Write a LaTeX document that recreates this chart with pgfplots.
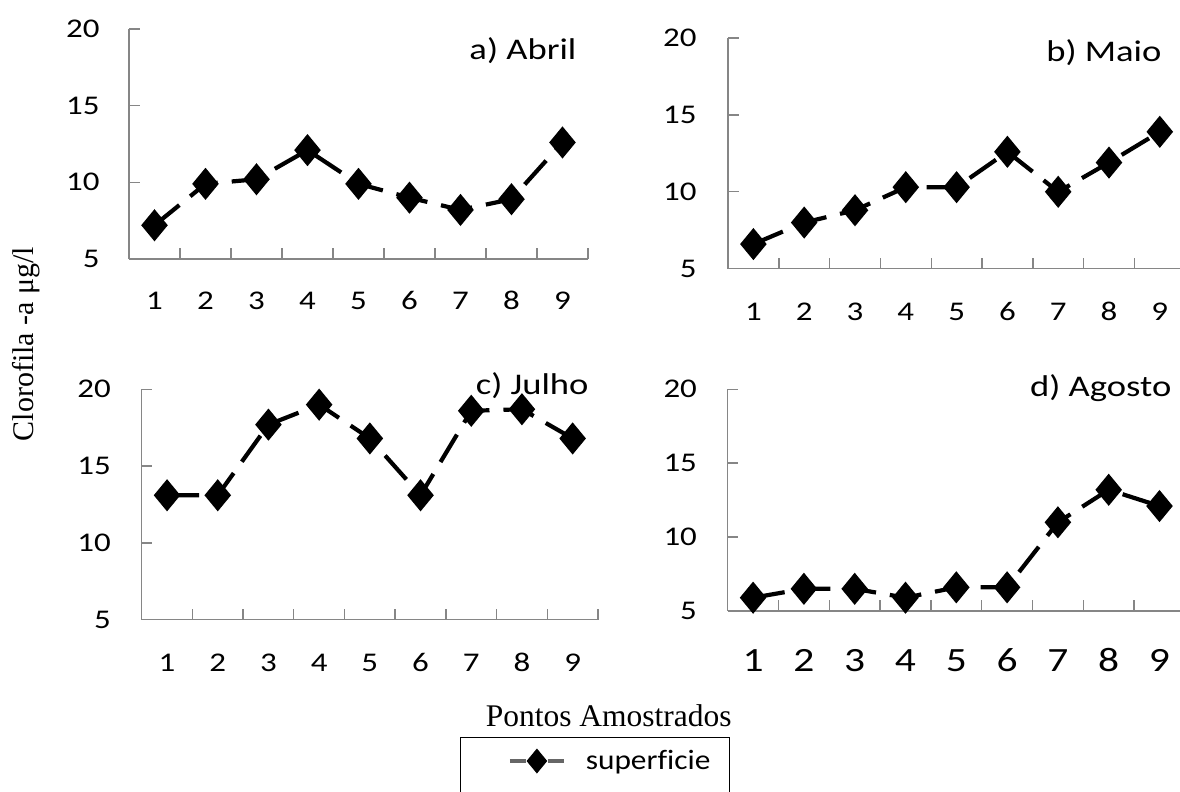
\documentclass[border=0pt]{standalone}
\usepackage{fontspec}
\setmainfont{Carlito}
\newfontfamily\chartfont[FakeStretch=1.22, Ligatures=NoCommon]{Carlito}
\newfontfamily\legfont[FakeStretch=1.12, Ligatures=NoCommon]{Carlito}
\newfontfamily\timesfont{Liberation Serif}
\usepackage{pgfplots}
\pgfplotsset{compat=1.18}
\definecolor{axisgray}{HTML}{868686}
\pgfplotsset{
  panel/.style={
    scale only axis,
    xmin=0.5, xmax=9.5, ymin=5, ymax=20,
    axis x line*=bottom, axis y line*=left,
    axis line style={draw=axisgray, line width=0.7pt},
    xtick={1,...,9},
    major x tick style={draw=none},
    minor xtick={1.5,2.5,...,9.5},
    minor x tick style={draw=axisgray, line width=0.7pt},
    ytick={5,10,15,20},
    major y tick style={draw=axisgray, line width=0.7pt},
    tick align=inside,
    major tick length=5.3pt, minor tick length=5.3pt,
    /pgf/number format/assume math mode=true,
    yticklabel style={font=\chartfont\fontsize{13.5}{16}\selectfont, anchor=east, inner sep=0pt},
    xticklabel style={font=\chartfont\fontsize{13.5}{16}\selectfont, anchor=base, inner sep=0pt},
    clip=false,
  },
  series/.style={black, line width=2.1pt, dash pattern=on 16pt off 7pt,
    mark=diamond*, mark size=6.4pt, mark options={solid, fill=black, xscale=1.1}},
}
\tikzset{titlenode/.style={anchor=base east, inner sep=0pt, font=\chartfont\fontsize{15}{18}\selectfont}}
\begin{document}
\begin{tikzpicture}
\useasboundingbox (0,0) rectangle (590pt,396pt);

% a) Abril
\begin{axis}[panel, at={(64.5pt,266.5pt)}, anchor=south west,
  width=229.5pt, height=115pt,
  yticklabel style={xshift=-14.5pt}, xticklabel style={yshift=-25.5pt}]
\addplot[series] coordinates {(1,7.2) (2,9.9) (3,10.2) (4,12.1) (5,9.9) (6,9.0) (7,8.2) (8,8.9) (9,12.6)};
\node[titlenode] at (axis cs:9.28,17.98) {a) Abril};
\end{axis}

% b) Maio
\begin{axis}[panel, at={(364pt,261.65pt)}, anchor=south west,
  width=228.6pt, height=115.35pt,
  yticklabel style={xshift=-15.5pt}, xticklabel style={yshift=-26pt}]
\addplot[series] coordinates {(1,6.6) (2,8.0) (3,8.8) (4,10.3) (5,10.3) (6,12.6) (7,10.0) (8,11.9) (9,13.9)};
\node[titlenode] at (axis cs:9.04,18.44) {b) Maio};
\end{axis}

% c) Julho
\begin{axis}[panel, at={(70.85pt,86.15pt)}, anchor=south west,
  width=228.15pt, height=115.2pt,
  yticklabel style={xshift=-15.3pt}, xticklabel style={yshift=-26pt},
  legend style={at={(0.6976,-0.5104)}, anchor=north west, draw=black, line width=0.6pt,
    fill=white, inner xsep=23.85pt, inner ysep=4pt, column sep=8.15pt,
    nodes={inner sep=2pt, text depth=0.15em}, font=\legfont\fontsize{14}{16}\selectfont},
  legend cell align=left,
  legend image code/.code={\draw[mark repeat=2,mark phase=2,#1, draw=black!60, line width=1.6pt,
     dash pattern=on 8pt off 11pt on 8pt off 0.01pt,
     mark size=5pt, mark options={solid,fill=black,draw=black,xscale=1.1}]
     plot coordinates {(0pt,0pt) (13.5pt,0pt) (27pt,0pt)};}]
\addplot[series] coordinates {(1,13.1) (2,13.1) (3,17.7) (4,19.0) (5,16.8) (6,13.1) (7,18.6) (8,18.7) (9,16.8)};
\addlegendentry{\makebox[46.15pt][l]{superficie}}
\addlegendimage{empty legend}
\addlegendentry{\rule{0pt}{12pt}}
\node[titlenode] at (axis cs:9.32,19.63) {c) Julho};
\end{axis}

% d) Agosto
\begin{axis}[panel, at={(363.85pt,90.5pt)}, anchor=south west,
  width=228.6pt, height=110.85pt,
  yticklabel style={xshift=-15.2pt},
  xticklabel style={yshift=-30.3pt, font=\chartfont\fontsize{17}{19}\selectfont}]
\addplot[series] coordinates {(1,5.9) (2,6.5) (3,6.5) (4,5.9) (5,6.6) (6,6.6) (7,11.0) (8,13.2) (9,12.1)};
\node[titlenode] at (axis cs:9.24,19.5) {d) Agosto};
\end{axis}

\node[font=\timesfont\fontsize{15.75}{18}\selectfont, anchor=base, inner sep=0pt] at (304.35pt,32.65pt) {Pontos Amostrados};
\node[font=\timesfont\fontsize{15}{18}\selectfont, rotate=90, anchor=base, inner sep=0pt] at (16.65pt,224pt) {Clorofila -a μg/l};
\end{tikzpicture}
\end{document}
